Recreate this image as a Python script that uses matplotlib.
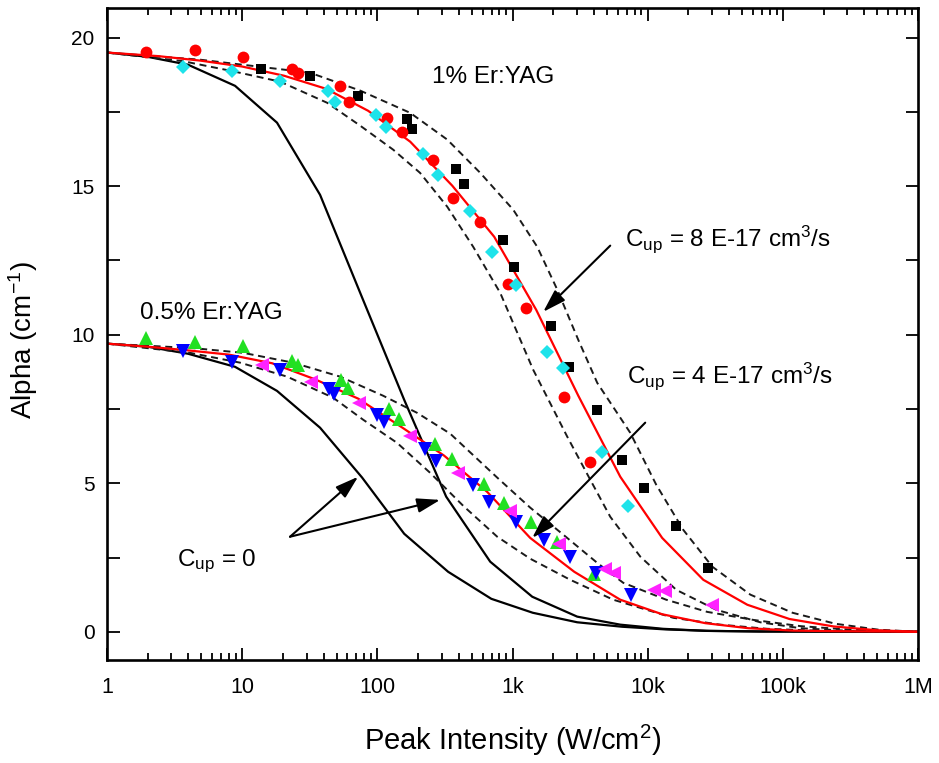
import matplotlib
matplotlib.use("Agg")
import matplotlib.pyplot as plt
from matplotlib import font_manager
from matplotlib.ticker import (FixedLocator, FixedFormatter, LogLocator,
                               NullFormatter)

installed = {f.name for f in font_manager.fontManager.ttflist}
SANS = "Liberation Sans" if "Liberation Sans" in installed else "DejaVu Sans"
NARROW = "Liberation Sans Narrow" if "Liberation Sans Narrow" in installed else SANS

plt.rcParams.update({
    "font.family": SANS,
    "mathtext.fontset": "custom",
    "mathtext.rm": SANS,
    "mathtext.it": SANS + ":italic",
    "mathtext.bf": SANS + ":bold",
    "mathtext.default": "regular",
})

# ---------------- model curves: 1% Er:YAG ----------------
# no upconversion
i_cup0_1 = [1, 1.98, 3.98, 8.86, 18.1, 37.7, 77.2, 158, 323, 684, 1400, 3010,
            6270, 13000, 27200, 68100, 1e6]
a_cup0_1 = [19.5, 19.36, 19.09, 18.38, 17.14, 14.71, 11.25, 7.81, 4.55, 2.36,
            1.18, 0.51, 0.24, 0.10, 0.03, 0.01, 0.0]
# best fit, Cup = 8E-17 cm^3/s
i_fit_1 = [1, 2.39, 4.88, 9.98, 20.4, 41.8, 85.5, 175, 358, 732, 1497, 3065,
           6270, 12800, 25800, 54600, 112000, 237000, 500000, 1e6]
a_fit_1 = [19.5, 19.38, 19.23, 19.03, 18.72, 18.28, 17.54, 16.50, 15.02, 13.30,
           10.84, 7.95, 5.22, 3.16, 1.75, 0.91, 0.43, 0.18, 0.05, 0.0]
# bounding curves
i_hi_1 = [1, 4.88, 13.6, 31.8, 74.6, 175, 329, 577, 1012, 1524, 2143, 3065,
          4236, 7430, 11570, 18350, 30100, 57500, 118000, 245000, 510000, 1e6]
a_hi_1 = [19.5, 19.26, 19.02, 18.82, 18.22, 17.47, 16.57, 15.45, 14.21, 12.96,
          11.52, 9.83, 8.38, 6.70, 4.95, 3.43, 2.19, 1.25, 0.64, 0.27, 0.07, 0.0]
i_lo_1 = [1, 3.65, 8.56, 19.1, 42.5, 74.6, 131, 207, 329, 512, 811, 1423, 2540,
          3760, 5290, 8820, 16300, 32200, 68100, 135000, 316000, 1e6]
a_lo_1 = [19.5, 19.21, 18.87, 18.52, 17.81, 17.04, 16.23, 15.45, 14.31, 12.96,
          11.41, 8.82, 6.57, 5.12, 3.87, 2.53, 1.41, 0.74, 0.32, 0.12, 0.03, 0.0]

# ---------------- model curves: 0.5% Er:YAG ----------------
i_cup0_05 = [1, 1.98, 3.98, 8.86, 18.1, 37.7, 77.2, 158, 334, 697, 1413, 3010,
             6460, 13500, 28900, 68100, 1e6]
a_cup0_05 = [9.70, 9.60, 9.36, 8.92, 8.11, 6.87, 5.19, 3.30, 2.02, 1.11, 0.64,
             0.32, 0.17, 0.08, 0.03, 0.01, 0.0]
# best fit, Cup = 4E-17 cm^3/s
i_fit_05 = [1, 1.98, 3.85, 8.0, 16.65, 34.6, 72.1, 150, 312, 650, 1352, 2864,
            6270, 12800, 26700, 55600, 118000, 245000, 510000, 1e6]
a_fit_05 = [9.70, 9.60, 9.48, 9.33, 9.04, 8.50, 7.85, 6.90, 5.93, 4.71, 3.16,
            2.02, 1.08, 0.59, 0.29, 0.12, 0.04, 0.02, 0.01, 0.0]
i_hi_05 = [1, 4.33, 10.2, 23.8, 53.0, 110, 197, 346, 771, 1352, 2373, 4236,
           6590, 13700, 27600, 60500, 135000, 316000, 1e6]
a_hi_05 = [9.70, 9.55, 9.39, 9.06, 8.59, 7.95, 7.37, 6.67, 5.19, 4.18, 3.27,
           2.32, 1.65, 1.08, 0.67, 0.40, 0.19, 0.07, 0.0]
i_lo_05 = [1, 4.12, 9.65, 21.5, 47.1, 78.5, 140, 246, 432, 771, 1352, 2674,
           5560, 15500, 34400, 76800, 225000, 1e6]
a_lo_05 = [9.70, 9.39, 9.06, 8.59, 7.88, 7.14, 6.36, 5.35, 4.24, 3.20, 2.46,
           1.75, 1.08, 0.47, 0.24, 0.10, 0.02, 0.0]

# ---------------- measurements: 1% Er:YAG ----------------
sq_i = [13.9, 31.7, 72.1, 165, 182, 383, 434, 857, 1033, 1919, 2600, 4218,
        6459, 9442, 16300, 27750]
sq_a = [18.95, 18.72, 18.05, 17.27, 16.91, 15.59, 15.08, 13.20, 12.29, 10.28,
        8.93, 7.45, 5.79, 4.84, 3.57, 2.14]
ci_i = [1.93, 4.48, 10.2, 23.2, 25.9, 52.6, 61.8, 118, 151, 260, 366, 577,
        933, 1262, 2387, 3759]
ci_a = [19.52, 19.57, 19.35, 18.96, 18.81, 18.37, 17.85, 17.30, 16.84, 15.89,
        14.61, 13.79, 11.70, 10.90, 7.92, 5.70]
di_i = [3.63, 8.38, 19.1, 43.5, 48.9, 98.5, 116, 219, 283, 484, 704, 1064,
        1798, 2346, 4590, 7160]
di_a = [19.00, 18.87, 18.55, 18.19, 17.84, 17.41, 17.00, 16.10, 15.37, 14.17,
        12.80, 11.67, 9.41, 8.88, 6.04, 4.22]

# ---------------- measurements: 0.5% Er:YAG ----------------
up_i = [1.93, 4.48, 10.2, 23.3, 25.8, 53.9, 60.7, 121.6, 145, 269, 354, 612,
        863, 1361, 2132, 4013]
up_a = [9.89, 9.75, 9.61, 9.10, 8.98, 8.46, 8.21, 7.50, 7.15, 6.31, 5.80,
        4.99, 4.33, 3.71, 3.01, 1.96]
dn_i = [3.63, 8.47, 19.1, 43.8, 47.4, 100, 112, 226, 273, 513, 667, 1058,
        1704, 2649, 4115, 7580]
dn_a = [9.44, 9.07, 8.82, 8.17, 8.01, 7.31, 7.05, 6.16, 5.75, 4.93, 4.37,
        3.69, 3.10, 2.52, 1.98, 1.25]
lt_i = [13.97, 32.2, 73.7, 175, 398, 962, 2192, 4849, 5595, 11060, 13500,
        29930]
lt_a = [8.99, 8.41, 7.69, 6.59, 5.34, 4.06, 2.95, 2.10, 1.98, 1.41, 1.36,
        0.91]

x_ticks = [1, 10, 100, 1e3, 1e4, 1e5, 1e6]
x_tick_labels = ["1", "10", "100", "1k", "10k", "100k", "1M"]
y_ticks = [0, 5, 10, 15, 20]

# ---------------- figure ----------------
W, H = 939, 763
fig = plt.figure(figsize=(W / 100, H / 100), dpi=100)
ax = fig.add_axes([107 / W, 1 - 660 / H, 811 / W, 652 / H])
ax.set_xscale("log")
ax.set_xlim(1, 1e6)
ax.set_ylim(-0.95, 21.0)

dash = (0, (3.6, 2.4))
lw = 1.6
for xs, ys in [(i_cup0_1, a_cup0_1), (i_cup0_05, a_cup0_05)]:
    ax.plot(xs, ys, color="black", lw=lw, zorder=2)
for xs, ys in [(i_hi_1, a_hi_1), (i_lo_1, a_lo_1),
               (i_hi_05, a_hi_05), (i_lo_05, a_lo_05)]:
    ax.plot(xs, ys, color="#1a1a1a", lw=1.4, ls=dash, zorder=2)
for xs, ys in [(i_fit_1, a_fit_1), (i_fit_05, a_fit_05)]:
    ax.plot(xs, ys, color="#ff0000", lw=lw, zorder=2.5)

mk = dict(ls="none", mew=0, zorder=3)
ax.plot(sq_i, sq_a, marker="s", ms=7.5, color="black", **mk)
ax.plot(ci_i, ci_a, marker="o", ms=8.5, color="#ff0000", **mk)
ax.plot(di_i, di_a, marker="D", ms=7.2, color="#1ee3ea", **mk)
ax.plot(up_i, up_a, marker="^", ms=9.5, color="#22e022", **mk)
ax.plot(dn_i, dn_a, marker="v", ms=9.5, color="#0000ff", **mk)
ax.plot(lt_i, lt_a, marker="<", ms=9.5, color="#ff22ff", **mk)

# ---------------- axes styling ----------------
ax.xaxis.set_major_locator(FixedLocator(x_ticks))
ax.xaxis.set_major_formatter(FixedFormatter(x_tick_labels))
ax.xaxis.set_minor_locator(LogLocator(base=10, subs=range(2, 10), numticks=30))
ax.xaxis.set_minor_formatter(NullFormatter())
ax.yaxis.set_major_locator(FixedLocator(y_ticks))
ax.yaxis.set_minor_locator(FixedLocator([2.5, 7.5, 12.5, 17.5]))

ax.tick_params(which="both", direction="in", top=True, right=True,
               width=1.3, colors="black")
ax.tick_params(which="major", length=9)
ax.tick_params(axis="x", which="minor", length=5)
ax.tick_params(axis="y", which="minor", length=9)
ax.tick_params(axis="x", which="major", pad=12, labelsize=15.5)
ax.tick_params(axis="y", which="major", pad=9, labelsize=15)
for t in ax.get_xticklabels():
    t.set_fontfamily(NARROW)
for s in ax.spines.values():
    s.set_linewidth(1.9)

ax.set_xlabel("Peak Intensity (W/cm$^2$)", fontsize=21, family=NARROW)
ax.set_ylabel("Alpha (cm$^{-1}$)", fontsize=20)
ax.xaxis.set_label_coords(0.5, -0.097)
ax.yaxis.set_label_coords(-0.082, 0.49)

# ---------------- annotations ----------------
fs = 17.5
ax.text(254, 18.47, "1% Er:YAG", fontsize=fs, va="baseline", ha="left")
ax.text(1.755, 10.53, "0.5% Er:YAG", fontsize=fs, va="baseline", ha="left")
ax.text(6826, 13.0, "C$_{up}$ = 8 E-17 cm$^3$/s", fontsize=fs,
        va="baseline", ha="left")
ax.text(7063, 8.38, "C$_{up}$ = 4 E-17 cm$^3$/s", fontsize=fs,
        va="baseline", ha="left")
ax.text(3.3, 2.22, "C$_{up}$ = 0", fontsize=fs, va="baseline", ha="left")

arrow = dict(arrowstyle="-|>,head_length=0.7,head_width=0.22",
             mutation_scale=20, lw=1.5, color="black",
             shrinkA=0, shrinkB=0)
for start, end in [((5286, 13.0), (1687, 10.77)),
                   ((9594, 7.04), (1400, 3.16)),
                   ((22.6, 3.20), (72.1, 5.22)),
                   ((22.6, 3.20), (291.7, 4.44))]:
    ax.annotate("", xy=end, xytext=start, arrowprops=arrow, zorder=4)

fig.savefig("out.png", dpi=100)
